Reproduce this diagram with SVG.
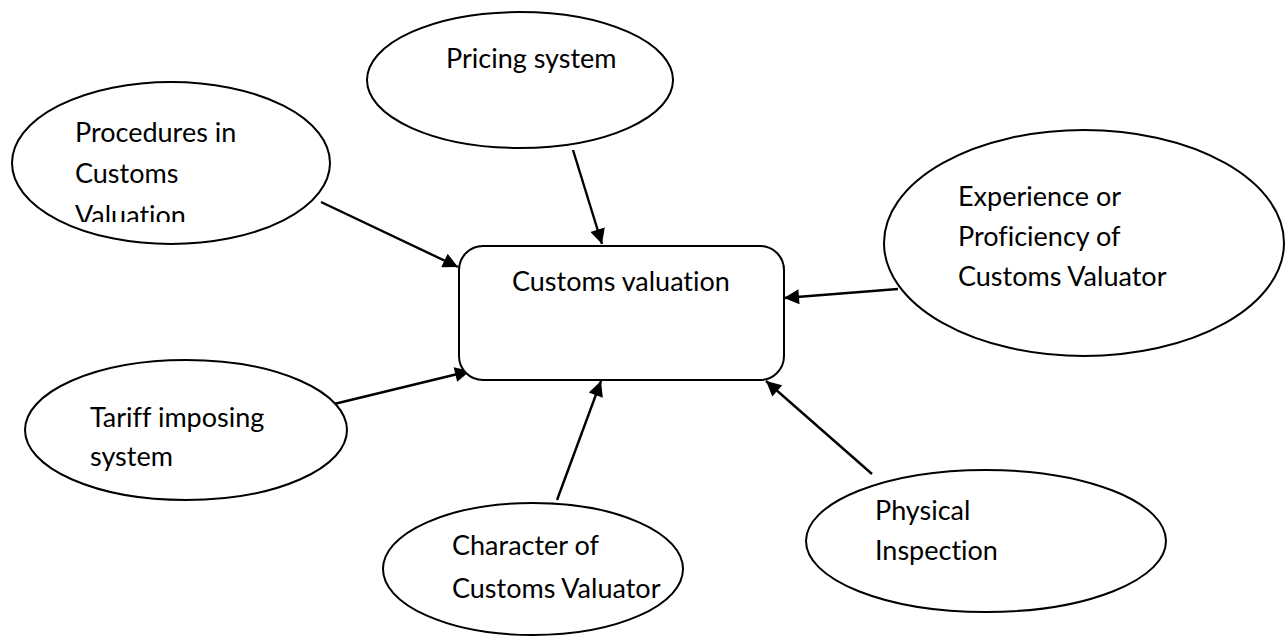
<svg xmlns="http://www.w3.org/2000/svg" width="1286" height="636" viewBox="0 0 1286 636">
  <style>
    .shape { fill: #ffffff; stroke: #000000; stroke-width: 2; }
    .label { font-family: Lato, "Open Sans", "Liberation Sans", sans-serif; font-size: 27px; fill: #000000; font-variant-ligatures: none; }
    .conn { stroke: #000000; stroke-width: 2.4; fill: none; marker-end: url(#arrow); }
  </style>
  <defs>
    <marker id="arrow" viewBox="0 0 10 10" refX="10" refY="5" markerUnits="userSpaceOnUse" markerWidth="18" markerHeight="15" orient="auto">
      <path d="M0,0 L10,5 L0,10 z" fill="#000000"/>
    </marker>
    <!-- the third line of this label is cut off by its text box -->
    <clipPath id="procClip">
      <rect x="0" y="0" width="400" height="222"/>
    </clipPath>
  </defs>
  <rect width="1286" height="636" fill="#ffffff"/>

  <g id="connectors">
    <line class="conn" x1="321" y1="202" x2="458" y2="267"/>
    <line class="conn" x1="573" y1="150" x2="602" y2="244"/>
    <line class="conn" x1="898" y1="289" x2="784" y2="298"/>
    <line class="conn" x1="330" y1="405" x2="470" y2="371"/>
    <line class="conn" x1="557" y1="500" x2="601" y2="381"/>
    <line class="conn" x1="872" y1="474" x2="766" y2="381"/>
  </g>

  <g id="customs-valuation">
    <rect class="shape" x="459" y="246" width="325" height="134" rx="24" ry="24"/>
    <text class="label" x="512" y="291">Customs valuation</text>
  </g>

  <g id="pricing-system">
    <ellipse class="shape" cx="520" cy="80" rx="153" ry="68"/>
    <text class="label" x="446" y="68">Pricing system</text>
  </g>

  <g id="procedures">
    <ellipse class="shape" cx="171" cy="163" rx="159" ry="81"/>
    <g clip-path="url(#procClip)">
      <text class="label" x="75" y="142">Procedures in</text>
      <text class="label" x="75" y="183">Customs</text>
      <text class="label" x="75" y="225">Valuation</text>
    </g>
  </g>

  <g id="experience">
    <ellipse class="shape" cx="1084" cy="243" rx="200" ry="113"/>
    <text class="label" x="958" y="206">Experience or</text>
    <text class="label" x="958" y="246">Proficiency of</text>
    <text class="label" x="958" y="286">Customs Valuator</text>
  </g>

  <g id="tariff">
    <ellipse class="shape" cx="186" cy="430" rx="161" ry="70"/>
    <text class="label" x="90" y="427">Tariff imposing</text>
    <text class="label" x="90" y="466">system</text>
  </g>

  <g id="character">
    <ellipse class="shape" cx="533" cy="569" rx="150" ry="66"/>
    <text class="label" x="452" y="555">Character of</text>
    <text class="label" x="452" y="598">Customs Valuator</text>
  </g>

  <g id="physical-inspection">
    <ellipse class="shape" cx="986" cy="541" rx="180" ry="71"/>
    <text class="label" x="875" y="520">Physical</text>
    <text class="label" x="875" y="560">Inspection</text>
  </g>
</svg>
